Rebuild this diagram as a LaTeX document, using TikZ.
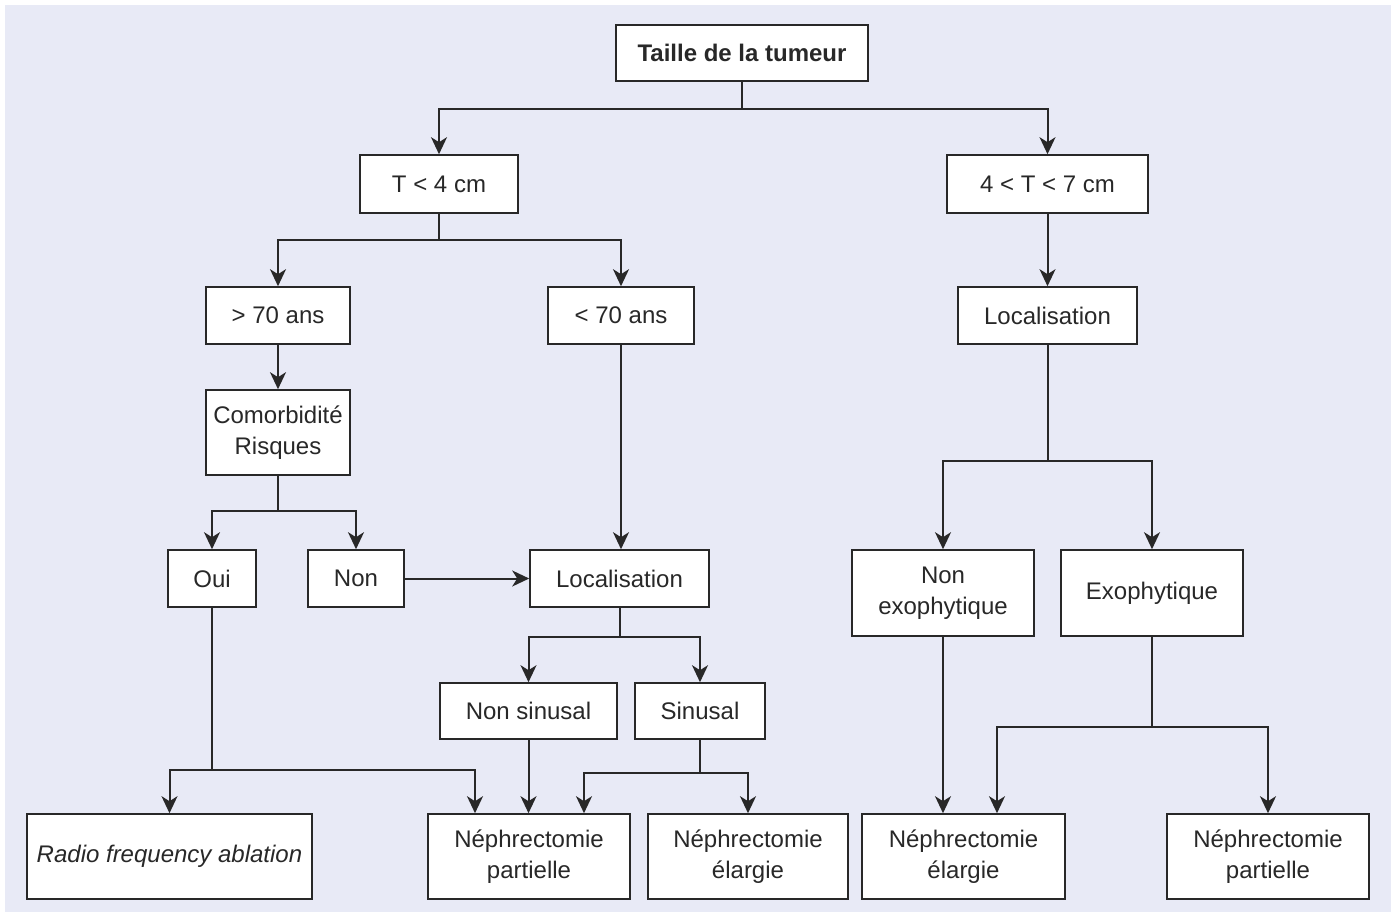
\documentclass[tikz,border=0pt]{standalone}
\usepackage{fontspec}
\setmainfont{Liberation Sans}
\usetikzlibrary{arrows.meta}
\definecolor{bgc}{RGB}{232,234,246}
\definecolor{ink}{RGB}{40,40,40}
\tikzset{
  box/.style={draw=ink, line width=1.6pt, fill=white, text=ink, inner sep=0pt, align=center,
    font=\fontsize{24}{31}\selectfont},
  arr/.style={draw=ink, line width=2pt, -{Stealth[length=17pt,width=16pt,inset=5pt]}},
  ln/.style={draw=ink, line width=2pt},
}
\newcommand{\bx}[6]{% name, x1, y1, x2, y2, text
  \node[box, minimum width={#4-#2}, minimum height={#5-#3}] (#1) at ({(#2+#4)/2},{(#3+#5)/2}) {#6};}
\begin{document}
\begin{tikzpicture}[x=1pt,y=-1pt]
\useasboundingbox (0,0) rectangle (1396,915);
\fill[bgc] (5,5) rectangle (1391,912);
\bx{taille}{616}{25}{868}{81}{\textbf{Taille de la tumeur}}
\bx{ta}{360}{155}{518}{213}{T < 4 cm}
\bx{tb}{947}{155}{1148}{213}{4 < T < 7 cm}
\bx{plus}{206}{287}{350}{344}{> 70 ans}
\bx{moins}{548}{287}{694}{344}{< 70 ans}
\bx{locr}{958}{287}{1137}{344}{Localisation}
\bx{como}{206}{390}{350}{475}{Comorbidité\\Risques}
\bx{oui}{168}{550}{256}{607}{Oui}
\bx{non}{308}{550}{404}{607}{Non}
\bx{locm}{530}{550}{709}{607}{Localisation}
\bx{nexo}{852}{550}{1034}{636}{Non\\exophytique}
\bx{exo}{1061}{550}{1243}{636}{Exophytique}
\bx{nsin}{440}{683}{617}{739}{Non sinusal}
\bx{sin}{635}{683}{765}{739}{Sinusal}
\bx{rfa}{27}{814}{312}{899}{\itshape Radio frequency ablation}
\bx{npa}{428}{814}{630}{899}{Néphrectomie\\partielle}
\bx{nea}{648}{814}{848}{899}{Néphrectomie\\élargie}
\bx{neb}{862}{814}{1065}{899}{Néphrectomie\\élargie}
\bx{npb}{1167}{814}{1369}{899}{Néphrectomie\\partielle}
% connectors
\draw[ln] (taille.south) -- (taille.south |- 0,109);
\draw[arr] (taille.south |- 0,109) -| (ta.north);
\draw[arr] (taille.south |- 0,109) -| (tb.north);
\draw[arr] (tb.south) -- (locr.north);
\draw[ln] (ta.south) -- (ta.south |- 0,240);
\draw[arr] (ta.south |- 0,240) -| (plus.north);
\draw[arr] (ta.south |- 0,240) -| (moins.north);
\draw[arr] (plus.south) -- (como.north);
\draw[ln] (como.south) -- (como.south |- 0,511);
\draw[arr] (como.south |- 0,511) -| (oui.north);
\draw[arr] (como.south |- 0,511) -| (non.north);
\draw[arr] (moins.south) -- (moins.south |- locm.north);
\draw[arr] (non.east) -- (locm.west);
\draw[ln] (locm.south) -- (locm.south |- 0,637);
\draw[arr] (locm.south |- 0,637) -| (nsin.north);
\draw[arr] (locm.south |- 0,637) -| (sin.north);
\draw[ln] (oui.south) -- (oui.south |- 0,770);
\draw[arr] (oui.south |- 0,770) -| (rfa.north);
\draw[arr] (oui.south |- 0,770) -| (npa.north -| 475,0);
\draw[arr] (nsin.south) -- (nsin.south |- npa.north);
\draw[ln] (sin.south) -- (sin.south |- 0,773);
\draw[arr] (sin.south |- 0,773) -| (npa.north -| 584,0);
\draw[arr] (sin.south |- 0,773) -| (nea.north);
\draw[ln] (locr.south) -- (locr.south |- 0,461);
\draw[arr] (locr.south |- 0,461) -| (nexo.north);
\draw[arr] (locr.south |- 0,461) -| (exo.north);
\draw[arr] (nexo.south) -- (nexo.south |- neb.north);
\draw[ln] (exo.south) -- (exo.south |- 0,727);
\draw[arr] (exo.south |- 0,727) -| (neb.north -| 997,0);
\draw[arr] (exo.south |- 0,727) -| (npb.north);
\end{tikzpicture}
\end{document}
